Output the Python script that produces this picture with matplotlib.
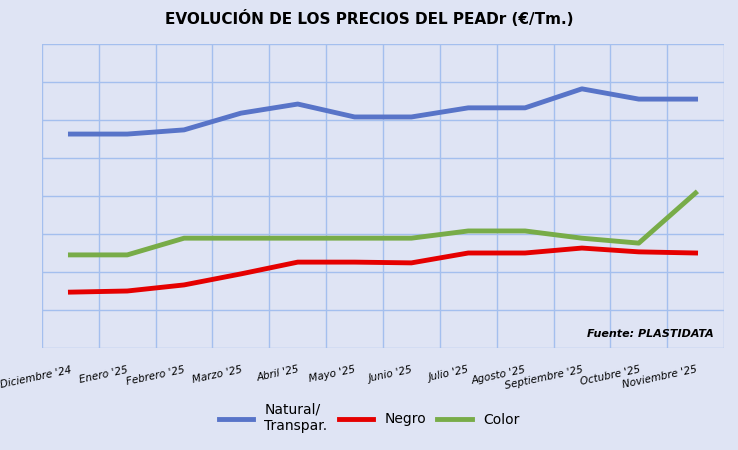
import matplotlib
matplotlib.use("Agg")
import matplotlib.pyplot as plt

months = ["Diciembre '24","Enero '25","Febrero '25","Marzo '25","Abril '25","Mayo '25",
          "Junio '25","Julio '25","Agosto '25","Septiembre '25","Octubre '25","Noviembre '25"]
natural = [5.63,5.63,5.74,6.18,6.42,6.08,6.08,6.32,6.32,6.82,6.55,6.55]
negro = [1.47,1.50,1.66,1.95,2.26,2.26,2.24,2.50,2.50,2.63,2.53,2.50]
color = [2.45,2.45,2.89,2.89,2.89,2.89,2.89,3.08,3.08,2.89,2.76,4.08]

bg = "#dfe4f4"
fig = plt.figure(figsize=(7.38,4.5), dpi=100, facecolor=bg)
ax = fig.add_axes([42/738, 1-348/450, 682/738, 304/450], facecolor=bg)
x = range(len(months))
ax.plot(x, natural, color="#5874c8", lw=3.5, label="Natural/\nTranspar.")
ax.plot(x, negro, color="#e50000", lw=3.5, label="Negro")
ax.plot(x, color, color="#78ac48", lw=3.5, label="Color")
ax.set_xlim(-0.5, 11.5)
ax.set_ylim(0, 8)
ax.set_yticks(range(9))
ax.set_yticklabels([])
ax.tick_params(axis="y", length=0)
ax.set_xticks([i-0.5 for i in range(13)], minor=False)
ax.set_xticklabels([])
ax.set_xticks(list(x), minor=True)
ax.set_xticklabels(months, minor=True, rotation=12, ha="right", fontsize=7.5,
                   style="italic", rotation_mode="anchor")
ax.tick_params(axis="x", which="both", length=0, pad=12)
ax.grid(True, which="major", color="#a4bfee", lw=1)
for s in ax.spines.values():
    s.set_visible(False)
ax.text(0.985, 0.03, "Fuente: PLASTIDATA", transform=ax.transAxes, ha="right",
        va="bottom", fontsize=8, fontweight="bold", style="italic")
fig.text(0.5, 1-18/450, "EVOLUCIÓN DE LOS PRECIOS DEL PEADr (€/Tm.)", ha="center",
         va="center", fontsize=11, fontweight="bold")
fig.legend(loc="center", bbox_to_anchor=(0.5, 1-418/450), ncol=3, frameon=False,
           fontsize=10, handlelength=2.5, columnspacing=0.8)
fig.savefig("out.png", dpi=100, facecolor=bg)
